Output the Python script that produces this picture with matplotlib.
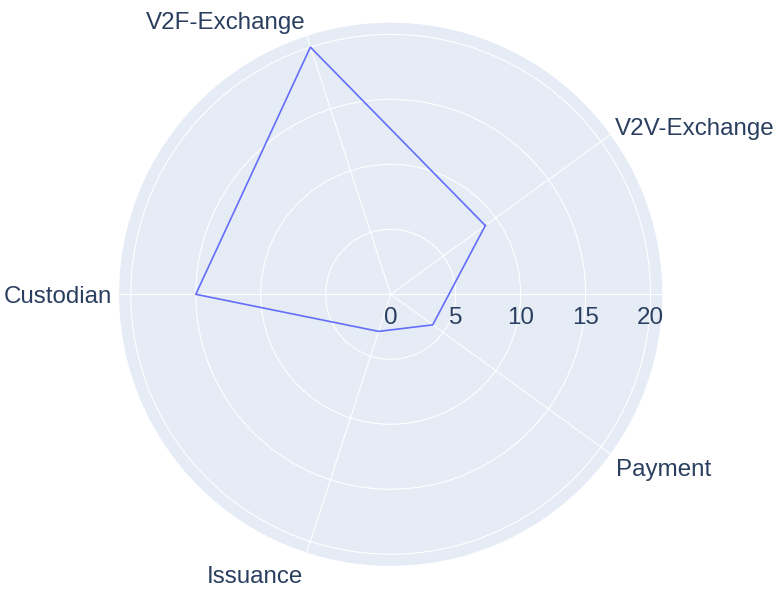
"""Radar chart of category scores (plotly-style polar look)."""
import numpy as np
import matplotlib
matplotlib.use("Agg")
import matplotlib.pyplot as plt

categories = ["V2V-Exchange", "V2F-Exchange", "Custodian", "Issuance", "Payment"]
scores = [9, 20, 15, 3, 4]
radial_ticks = [0, 5, 10, 15, 20]

BG = "#E5ECF6"
TXT = "#2a3f5f"
LINE = "#636EFA"
FS = 17.4

# label placement relative to the end of each spoke, in px (x right, y up)
label_layout = {
    "V2V-Exchange": ("left", 4.6, -0.6),
    "V2F-Exchange": ("right", -1.6, 6.6),
    "Custodian": ("right", -7.0, -8.7),
    "Issuance": ("right", -3.6, -30.3),
    "Payment": ("left", 5.6, -22.5),
}

plt.rcParams["font.family"] = ["Liberation Sans", "DejaVu Sans"]

fig = plt.figure(figsize=(7.82, 5.93), dpi=100)
ax = fig.add_axes([0.1523, 0.0457, 0.6946, 0.916], projection="polar")
ax.set_facecolor(BG)
ax.spines["polar"].set_visible(False)

# categories spaced evenly, first one at 36 degrees
n = len(categories)
theta = np.deg2rad(36 + 360 / n * np.arange(n))
rmax = 20.9
ax.set_ylim(0, rmax)

ax.set_xticks(np.append(theta, 0.0))
ax.set_xticklabels([])
ax.set_yticks(radial_ticks[1:])
ax.set_yticklabels([])
ax.grid(True, color="white", lw=0.8)

ax.plot(np.append(theta, theta[0]), scores + scores[:1], color=LINE, lw=1.2,
        clip_on=False, zorder=3)

px = 72 / fig.dpi
for t, lab in zip(theta, categories):
    ha, dx, dy = label_layout[lab]
    ax.annotate(lab, (t, rmax), xytext=(dx * px, dy * px),
                textcoords="offset points", ha=ha, va="baseline",
                fontsize=FS, color=TXT, annotation_clip=False)

# radial tick labels under the 0 degree axis
for v in radial_ticks:
    ax.annotate(str(v), (0, v), xytext=(0, -30 * px), textcoords="offset points",
                ha="center", va="baseline", fontsize=FS, color=TXT,
                annotation_clip=False)

fig.savefig("out.png", dpi=100)
